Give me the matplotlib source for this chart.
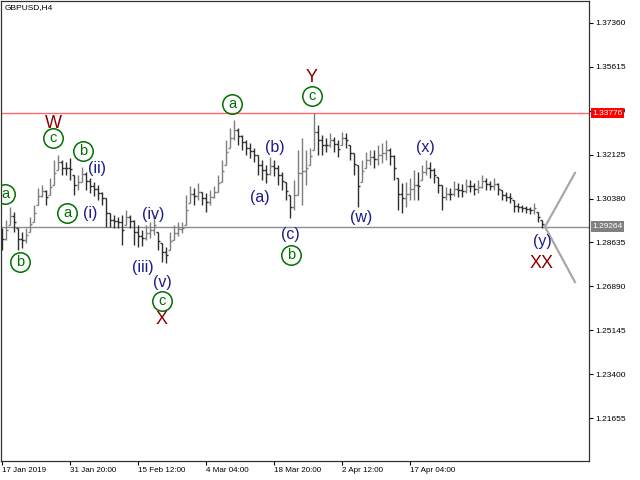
import numpy as np
import matplotlib
matplotlib.use("Agg")
import matplotlib.pyplot as plt
import matplotlib.transforms as mtransforms

plt.rcParams['font.family'] = ['Liberation Sans', 'DejaVu Sans']

# Barras H4 (agrupadas), maximas e minimas
highs = [1.2921, 1.2953, 1.3005, 1.2985, 1.2921, 1.2905, 1.2921, 1.2965, 1.3013, 1.3080,
         1.3092, 1.3072, 1.3120, 1.3191, 1.3211, 1.3191, 1.3184, 1.3199, 1.3132, 1.3132,
         1.3164, 1.3144, 1.3120, 1.3104, 1.3092, 1.3064, 1.3040, 1.2981, 1.2973, 1.2965,
         1.2973, 1.2993, 1.2973, 1.2953, 1.2933, 1.2913, 1.2933, 1.2945, 1.2973, 1.2905,
         1.2862, 1.2846, 1.2905, 1.2933, 1.2945, 1.2945, 1.3052, 1.3088, 1.3080, 1.3100,
         1.3064, 1.3060, 1.3072, 1.3088, 1.3132, 1.3191, 1.3271, 1.3319, 1.3350, 1.3319,
         1.3291, 1.3271, 1.3259, 1.3239, 1.3211, 1.3191, 1.3172, 1.3203, 1.3191, 1.3172,
         1.3144, 1.3104, 1.3052, 1.3112, 1.3231, 1.3279, 1.3231, 1.3239, 1.3378, 1.3330,
         1.3291, 1.3279, 1.3299, 1.3283, 1.3271, 1.3303, 1.3299, 1.3251, 1.3219, 1.3172,
         1.3191, 1.3223, 1.3231, 1.3231, 1.3251, 1.3259, 1.3271, 1.3239, 1.3211, 1.3120,
         1.3100, 1.3104, 1.3120, 1.3152, 1.3144, 1.3172, 1.3191, 1.3184, 1.3160, 1.3124,
         1.3092, 1.3084, 1.3080, 1.3108, 1.3100, 1.3096, 1.3116, 1.3112, 1.3100, 1.3112,
         1.3132, 1.3120, 1.3108, 1.3120, 1.3100, 1.3072, 1.3064, 1.3060, 1.3032, 1.3021,
         1.3013, 1.3009, 1.3005, 1.3021, 1.2985, 1.2953]
lows = [1.2834, 1.2873, 1.2933, 1.2905, 1.2834, 1.2842, 1.2862, 1.2905, 1.2945, 1.3013,
        1.3044, 1.3013, 1.3052, 1.3092, 1.3152, 1.3132, 1.3132, 1.3112, 1.3052, 1.3072,
        1.3104, 1.3072, 1.3060, 1.3048, 1.3032, 1.3013, 1.2925, 1.2925, 1.2921, 1.2921,
        1.2854, 1.2933, 1.2921, 1.2854, 1.2846, 1.2850, 1.2873, 1.2881, 1.2893, 1.2834,
        1.2786, 1.2782, 1.2834, 1.2873, 1.2889, 1.2901, 1.2933, 1.3021, 1.3013, 1.3032,
        1.3013, 1.2985, 1.3013, 1.3040, 1.3064, 1.3104, 1.3172, 1.3239, 1.3271, 1.3251,
        1.3231, 1.3211, 1.3199, 1.3184, 1.3132, 1.3112, 1.3100, 1.3132, 1.3128, 1.3092,
        1.3072, 1.3032, 1.2961, 1.2993, 1.3052, 1.3013, 1.3092, 1.3172, 1.3231, 1.3211,
        1.3211, 1.3223, 1.3243, 1.3223, 1.3203, 1.3251, 1.3239, 1.3191, 1.3132, 1.3005,
        1.3104, 1.3160, 1.3172, 1.3160, 1.3172, 1.3180, 1.3191, 1.3172, 1.3112, 1.2993,
        1.2981, 1.3005, 1.3032, 1.3032, 1.3032, 1.3112, 1.3132, 1.3120, 1.3100, 1.3060,
        1.2993, 1.3032, 1.3032, 1.3048, 1.3044, 1.3044, 1.3060, 1.3064, 1.3052, 1.3060,
        1.3080, 1.3072, 1.3072, 1.3072, 1.3052, 1.3032, 1.3028, 1.3021, 1.2985, 1.2985,
        1.2985, 1.2981, 1.2977, 1.2977, 1.2945, 1.2921]

# Eixos
x_tick_pos = [0, 17, 34, 51, 68, 85, 102]
x_tick_labels = ["17 Jan 2019", "31 Jan 20:00", "15 Feb 12:00", "4 Mar 04:00",
                 "18 Mar 20:00", "2 Apr 12:00", "17 Apr 04:00"]
y_ticks = [1.37360, 1.35615, 1.33870, 1.32125, 1.30380, 1.28635,
           1.26890, 1.25145, 1.23400, 1.21655]

# Niveis e projecao
level_red = 1.33776
level_bid = 1.29264
proj_x = [135.75, 143.25]
proj_up = [1.2926, 1.3140]
proj_down = [1.2926, 1.2706]

# Marcacoes de Elliott: (texto, barra, preco)
big_labels = [("W", 12.75, 1.3335), ("X", 40, 1.2559), ("Y", 77.5, 1.3521), ("XX", 135, 1.2778)]
circle_labels = [("c", 12.75, 1.3279), ("b", 20.25, 1.3227), ("a", 0.75, 1.3056),
                 ("a", 16.25, 1.2981), ("b", 4.5, 1.2786), ("c", 40, 1.2631),
                 ("a", 57.5, 1.3414), ("b", 72.25, 1.2814), ("c", 77.5, 1.3446)]
paren_labels = [("(ii)", 23.75, 1.3156), ("(i)", 22, 1.2977), ("(iv)", 37.75, 1.2973),
                ("(iii)", 35.25, 1.2766), ("(v)", 40, 1.2703), ("(b)", 68.25, 1.3243),
                ("(a)", 64.5, 1.3044), ("(c)", 72, 1.2897), ("(w)", 89.75, 1.2961),
                ("(x)", 105.75, 1.3243), ("(y)", 135, 1.2866)]

fig = plt.figure(figsize=(6.4, 4.8), dpi=100)
ax = fig.add_axes([1 / 640, 19 / 480, 588 / 640, 460 / 480])
ax.set_xlim(-0.25, 146.75)
ax.set_ylim(1.19949, 1.38234)

# Barras OHLC: abertura no meio da barra anterior, fechamento no meio da barra
idx = np.arange(len(highs))
hi = np.array(highs)
lo = np.array(lows)
mids = (hi + lo) / 2
opens = np.clip(np.concatenate([[mids[0]], mids[:-1]]), lo, hi)
closes = mids
bar_colors = ['#7e7e7e' if closes[i] > opens[i] else '#2e2e2e' for i in idx]
ax.vlines(idx, lo, hi, colors=bar_colors, linewidth=1.0, zorder=2)
ax.hlines(opens, idx - 0.45, idx, colors=bar_colors, linewidth=1.0, zorder=2)
ax.hlines(closes, idx, idx + 0.45, colors=bar_colors, linewidth=1.0, zorder=2)

# Linhas horizontais
ax.axhline(level_red, color='#ff6b6b', linewidth=1, zorder=1)
ax.axhline(level_bid, color='#8c8c8c', linewidth=1, zorder=1)

# Projecao
ax.plot(proj_x, proj_up, color='#a8a8a8', linewidth=1.6, zorder=2)
ax.plot(proj_x, proj_down, color='#a8a8a8', linewidth=1.6, zorder=2)

# Rotulos das ondas
for txt, xi, yi in big_labels:
    ax.text(xi, yi, txt, color='#8b0000', fontsize=13, ha='center', va='center', zorder=4)
for txt, xi, yi in circle_labels:
    ax.plot(xi, yi, marker='o', markersize=14, mfc='none', mec='#007000', mew=1.1, zorder=4)
    ax.text(xi, yi, txt, color='#007000', fontsize=10.5, ha='center', va='center', zorder=4)
for txt, xi, yi in paren_labels:
    ax.text(xi, yi, txt, color='#1a1a8c', fontsize=11.5, ha='center', va='center', zorder=4)

ax.text(0.006, 0.993, "GBPUSD,H4", transform=ax.transAxes, fontsize=6,
        ha='left', va='top', color='black')

# Eixo y a direita
ax.yaxis.tick_right()
ax.set_yticks(y_ticks)
ax.set_yticklabels([f"{v:.5f}" for v in y_ticks])
ax.tick_params(axis='y', direction='out', length=3, width=0.8, labelsize=6, pad=1.5, colors='black')

# Eixo x
ax.set_xticks(x_tick_pos)
ax.set_xticklabels(x_tick_labels, ha='left')
ax.tick_params(axis='x', direction='out', length=3, width=0.8, labelsize=5.8, pad=1.5)

for s in ax.spines.values():
    s.set_color('#333333')
    s.set_linewidth(0.9)

# Caixas de preco
trans = mtransforms.blended_transform_factory(ax.transAxes, ax.transData)
ax.text(1.006, level_red, f"{level_red:.5f}", transform=trans, fontsize=6, color='white',
        ha='left', va='center', clip_on=False, zorder=5,
        bbox=dict(boxstyle='square,pad=0.2', fc='#ff0000', ec='none'))
ax.text(1.006, level_bid, f"{level_bid:.5f}", transform=trans, fontsize=6, color='white',
        ha='left', va='center', clip_on=False, zorder=5,
        bbox=dict(boxstyle='square,pad=0.2', fc='#808080', ec='none'))

fig.savefig("out.png", dpi=100)
